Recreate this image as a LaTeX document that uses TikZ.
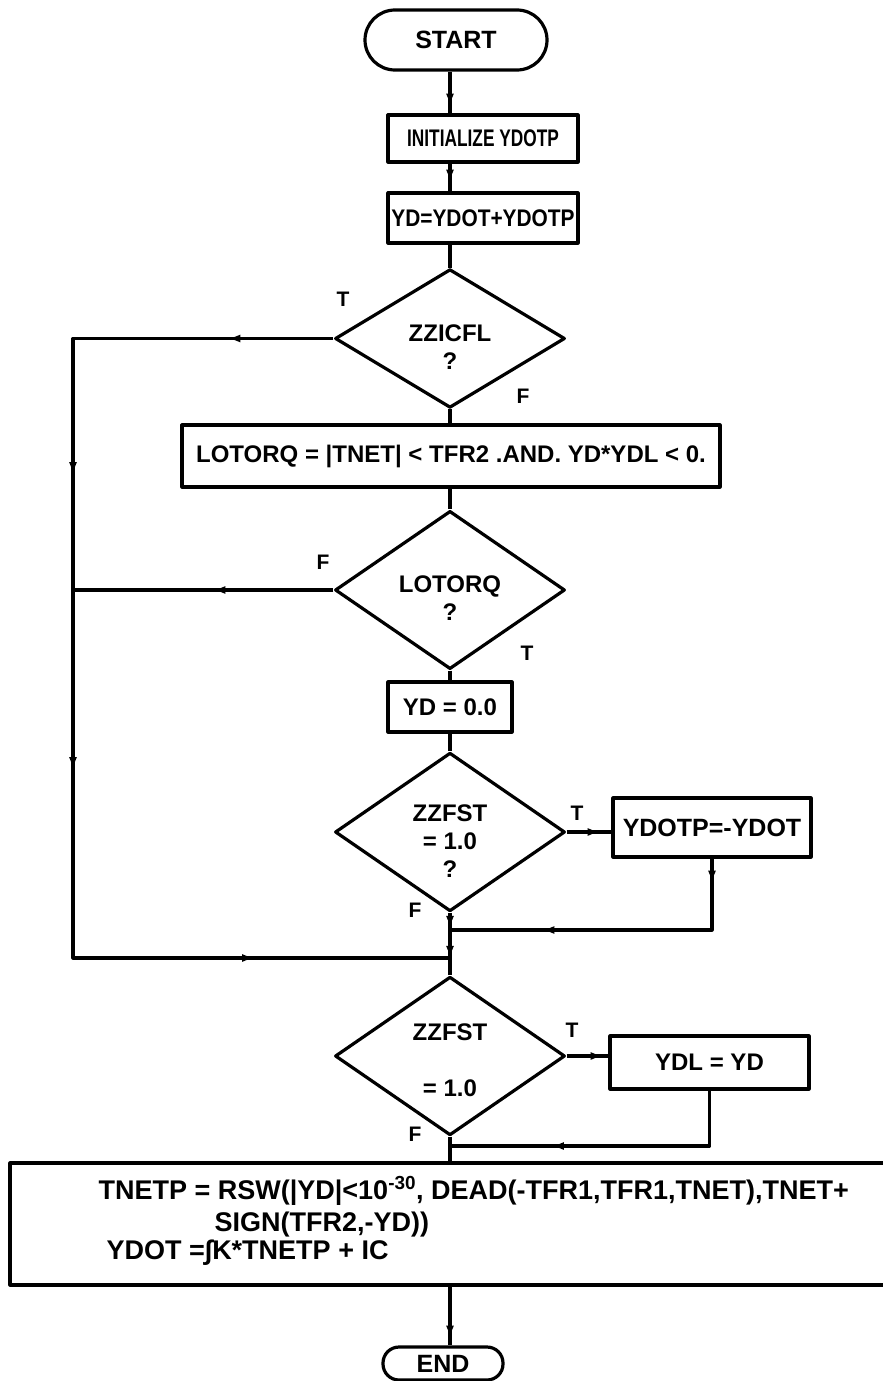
\documentclass[tikz,border=0pt]{standalone}
\usepackage{fontspec}
\usepackage{graphicx}
\setmainfont{Liberation Sans}
\usetikzlibrary{shapes.geometric,arrows.meta,decorations.markings}
\newcommand\dlines[2]{\raisebox{#2}[\height][\depth]{\begin{tabular}{@{}c@{}}#1\end{tabular}}}
\tikzset{
  box/.style={draw, rectangle, inner sep=0pt, align=center},
  term/.style={draw, rectangle, inner sep=0pt},
  dec/.style={draw, diamond, inner sep=0pt, minimum width=230pt, minimum height=134pt},
  lbl/.style={inner sep=0pt, font=\fontsize{21}{24}\selectfont\bfseries},
  tipat/.style={postaction={decorate, decoration={markings,
      mark=at position #1 with {\arrow{Latex[length=13pt,width=8pt]}}}}},
}
\begin{document}
\begin{tikzpicture}[x=1pt, y=-1pt, line width=3.2pt, line join=round,
  font=\fontsize{24}{28}\selectfont\bfseries]
\useasboundingbox (0,0) rectangle (883,1381);
\clip (0,0) rectangle (883,1381);

% nodes
\node[term, rounded corners=30pt, minimum width=182pt, minimum height=60pt, font=\fontsize{25}{28}\selectfont\bfseries] (start) at (456,40) {START};
\node[box, minimum width=190pt, minimum height=47pt] (init) at (483,138.5) {\scalebox{0.72}[1]{INITIALIZE YDOTP}};
\node[box, minimum width=190pt, minimum height=50pt] (ydb) at (483,218) {\scalebox{0.87}[1]{YD=YDOT+YDOTP}};
\node[dec] (d1) at (450,338.5) {\dlines{ZZICFL\\?}{-11pt}};
\node[box, minimum width=538pt, minimum height=62pt] (lot) at (451,456) {LOTORQ = |TNET| < TFR2 .AND. YD*YDL < 0.};
\node[dec] (d2) at (450,590) {\dlines{LOTORQ\\?}{-11pt}};
\node[box, minimum width=124pt, minimum height=50pt] (yd0) at (450,707) {YD = 0.0};
\node[dec, minimum height=133pt] (d3) at (450,832) {\dlines{ZZFST\\= 1.0\\?}{-12pt}};
\node[box, minimum width=198pt, minimum height=59pt, font=\fontsize{25}{28}\selectfont\bfseries] (ydotp) at (712,827.5) {YDOTP=-YDOT};
\node[dec, minimum height=136pt] (d4) at (450,1056) {\dlines{ZZFST\\ \\= 1.0}{-7pt}};
\node[box, minimum width=199pt, minimum height=53pt] (ydl) at (709.5,1062.5) {YDL = YD};
\node[box, minimum width=890pt, minimum height=122pt] (big) at (455,1224) {};
\begin{scope}[font=\fontsize{27}{30}\selectfont\bfseries]
\node[anchor=base west, inner sep=0pt] (t1) at (97,1199) {TNETP = RSW(|YD|<10\textsuperscript{-30}, DEAD(-TFR1,TFR1,TNET),TNET+};
\node[anchor=base west, inner sep=0pt] (t2) at (213,1231) {SIGN(TFR2,-YD))};
\node[anchor=base west, inner sep=0pt] (t3) at (105,1259) {YDOT =∫K*TNETP + IC};
\end{scope}
\node[term, rounded corners=16pt, minimum width=120pt, minimum height=33pt, font=\fontsize{25}{28}\selectfont\bfseries] (end) at (443,1363.5) {END};

% junction coordinates
\coordinate (L1) at (73,338.5);
\coordinate (J1) at (450,930);
\coordinate (J2) at (450,958);
\coordinate (J3) at (450,1146);

% main axis
\draw[tipat=35pt] (start.south -| d1.north) -- (init.north -| d1.north);
\draw[tipat=19pt] (init.south -| d1.north) -- (ydb.north -| d1.north);
\draw[tipat=27pt] (ydb.south -| d1.north) -- (d1.north);
\draw[tipat=15pt] (d1.south) -- (lot.north -| d1.south);
\draw[tipat=27pt] (lot.south -| d2.north) -- (d2.north);
\draw[tipat=20pt] (d2.south) -- (yd0.north);
\draw[tipat=25pt] (yd0.south) -- (d3.north);
\draw[tipat=16pt, tipat=46pt, tipat=79pt] (d3.south) -- (J1) -- (J2) -- (d4.north);
\draw[tipat=36pt] (d4.south) -- (big.north -| d4.south);
\draw[tipat=52pt] (big.south -| d4.south) -- (end.north -| d4.south);

% left loop
\draw[tipat=106pt, tipat=397pt, tipat=692pt, tipat=1062pt] (d1.west) -- (L1) -- (L1 |- J2) -- (J2);
\draw[tipat=121pt] (d2.west) -- (d2.west -| L1);

% right branches
\draw[tipat=34pt] (d3.east) -- (d3.east -| ydotp.west);
\draw[tipat=25pt, tipat=242pt] (ydotp.south) -- (ydotp.south |- J1) -- (J1);
\draw[tipat=37pt] (d4.east) -- (d4.east -| ydl.west);
\draw[tipat=214pt] (ydl.south) -- (ydl.south |- J3) -- (J3);

% branch labels
\node[lbl] (l1t) at (343,299) {T};
\node[lbl] (l1f) at (523,396) {F};
\node[lbl] (l2f) at (323,562) {F};
\node[lbl] (l2t) at (527,653) {T};
\node[lbl] (l3t) at (577,813) {T};
\node[lbl] (l3f) at (415,910) {F};
\node[lbl] (l4t) at (572,1030) {T};
\node[lbl] (l4f) at (415,1134) {F};
\end{tikzpicture}
\end{document}
